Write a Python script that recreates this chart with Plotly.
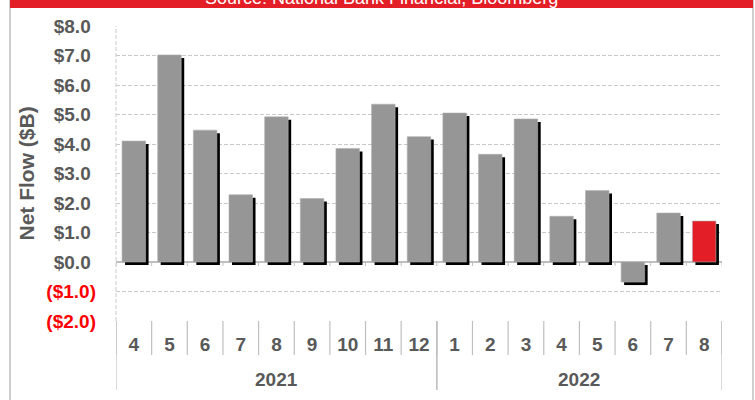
import plotly.graph_objects as go

years = ["2021"] * 9 + ["2022"] * 8
months = ["4", "5", "6", "7", "8", "9", "10", "11", "12", "1", "2", "3", "4", "5", "6", "7", "8"]
net_flow = [4.10, 7.02, 4.47, 2.28, 4.92, 2.15, 3.85, 5.35, 4.25, 5.05, 3.65, 4.85, 1.55, 2.42, -0.68, 1.66, 1.39]
bar_colors = ["#969696"] * 16 + ["#E41E26"]

y_tickvals = [8, 7, 6, 5, 4, 3, 2, 1, 0, -1, -2]
y_ticktext = ["$8.0\u00a0", "$7.0\u00a0", "$6.0\u00a0", "$5.0\u00a0", "$4.0\u00a0", "$3.0\u00a0",
              "$2.0\u00a0", "$1.0\u00a0", "$0.0\u00a0",
              "<span style='color:#FF0000'>($1.0)</span>", "<span style='color:#FF0000'>($2.0)</span>"]

title_text = "Source: National Bank Financial, Bloomberg"
y_title = "Net Flow ($B)"

W, H = 755, 400
ML, MR, MT, MB = 116, 33, 26, 79
PW = W - ML - MR
PH = H - MT - MB
YMIN, YMAX = -2, 8
px_per_unit = PH / (YMAX - YMIN)

keys = [f"{y}-{m}" for y, m in zip(years, months)]
n = len(keys)

bw = 0.66
dx = 3 / (PW / n)
dy = 3 / px_per_unit

GRID = "#c8c8c8"
AXIS = "#bfbfbf"
TXT = "#595959"
font_fam = "Liberation Sans, Arial, sans-serif"
FS = 19

fig = go.Figure()
# shadow
fig.add_trace(go.Bar(x=keys, y=net_flow, base=[-dy] * n,
                     width=bw, offset=-bw / 2 + dx, marker=dict(color="#000000", line=dict(width=0)),
                     hoverinfo="skip", showlegend=False))
fig.add_trace(go.Bar(x=keys, y=net_flow, width=bw, offset=-bw / 2,
                     marker=dict(color=bar_colors, line=dict(width=0.6, color="#b0b0b0")),
                     customdata=months, showlegend=False))

fig.update_layout(
    width=W, height=H, margin=dict(l=ML, r=MR, t=MT, b=MB, autoexpand=False),
    plot_bgcolor="white", paper_bgcolor="white", barmode="overlay",
    font=dict(family=font_fam, color=TXT),
    xaxis=dict(type="category", categoryorder="array", categoryarray=keys,
               tickvals=keys, ticktext=months, range=[-0.5, n - 0.5],
               showgrid=False, zeroline=False, showline=False, ticks="",
               ticklabelstandoff=10, automargin=False,
               tickfont=dict(size=FS, family=font_fam, color=TXT, weight="bold")),
    yaxis=dict(range=[YMIN, YMAX], tickvals=y_tickvals, ticktext=y_ticktext,
               showgrid=True, gridcolor=GRID, griddash="4px,2px", gridwidth=1,
               zeroline=True, zerolinecolor=AXIS, zerolinewidth=1.5,
               showline=False, ticks="", ticklabelstandoff=19, automargin=False,
               tickfont=dict(size=FS, family=font_fam, color=TXT, weight="bold")),
)

# y title as annotation
fig.add_annotation(text=y_title, xref="paper", yref="paper", x=(25.5 - ML) / PW, y=(PH - 174 + MT) / PH,
                   textangle=-90, showarrow=False, xanchor="center", yanchor="middle",
                   font=dict(size=21, family=font_fam, color=TXT, weight="bold"))

# left dashed plot border
fig.add_shape(type="line", xref="paper", yref="paper", x0=0, x1=0, y0=0, y1=1,
              line=dict(color=GRID, width=1, dash="4px,2px"))

# zero-line boundary ticks and month dividers
for i in range(n + 1):
    fig.add_shape(type="line", xref="x", yref="y", x0=i - 0.5, x1=i - 0.5,
                  y0=0, y1=-4 / px_per_unit, line=dict(color=AXIS, width=1))
    fig.add_shape(type="line", xref="x", yref="paper", x0=i - 0.5, x1=i - 0.5,
                  y0=0, y1=-34 / PH, line=dict(color=AXIS, width=1.2))

# year dividers and labels
groups = []
for i, yv in enumerate(years):
    if not groups or groups[-1][0] != yv:
        groups.append([yv, i, i])
    else:
        groups[-1][2] = i
for yv, s, e in groups:
    for xb in (s - 0.5, e + 0.5):
        fig.add_shape(type="line", xref="x", yref="paper", x0=xb, x1=xb,
                      y0=0, y1=-69 / PH, line=dict(color=AXIS, width=1.2))
    fig.add_annotation(text=yv, xref="x", yref="paper", x=(s + e) / 2, y=-58 / PH,
                       showarrow=False, xanchor="center", yanchor="middle",
                       font=dict(size=FS, family=font_fam, color=TXT, weight="bold"))

# outer frame
fx0 = (10 - ML) / PW
fx1 = (753 - ML) / PW
fig.add_shape(type="rect", xref="paper", yref="paper", x0=fx0, x1=fx1,
              y0=-(MB + 5) / PH, y1=(PH + MT + 5) / PH, line=dict(color=AXIS, width=1.5))
# red header band
fig.add_shape(type="rect", xref="paper", yref="paper", x0=fx0, x1=fx1,
              y0=(PH + MT - 8) / PH, y1=(PH + MT + 5) / PH, line=dict(width=0),
              fillcolor="#E41E26")
fig.add_annotation(text=title_text, xref="paper", yref="paper", x=(fx0 + fx1) / 2,
                   y=(PH + MT + 2) / PH, yanchor="middle", xanchor="center", showarrow=False,
                   font=dict(size=18, family=font_fam, color="white"))

fig.write_html("out.html", config={"displayModeBar": False},
               post_script="document.body.style.margin='0px';")
